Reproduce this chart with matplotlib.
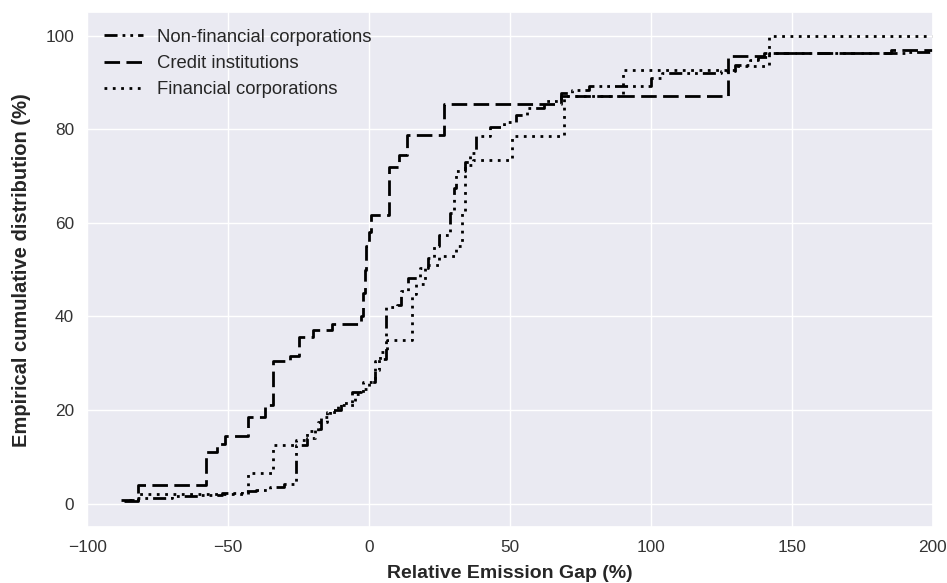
import matplotlib

matplotlib.use("Agg")

import matplotlib.pyplot as plt
import seaborn as sns

# step positions (Relative Emission Gap, %) and cumulative share (%)
nonfin_gap = [-88, -83, -70, -60, -52, -45, -40, -35, -30, -26, -22, -19, -17, -14,
              -10, -6, -3, 0, 2, 3.5, 6, 10, 11.5, 14, 18, 21, 23, 25, 28.6, 30,
              31, 34, 36, 38, 43, 48, 52, 56, 62, 68, 72, 78, 100, 104, 111, 125,
              130, 135, 138, 142, 190, 200]
nonfin_cdf = [0.8, 1.3, 1.6, 1.9, 2.2, 2.6, 3.0, 3.5, 4.3, 12.5, 14, 16, 18.5, 20,
              21.5, 23.8, 24.5, 26, 28.5, 31, 42, 42.5, 45.5, 48.3, 50.4, 52.5, 55, 57.4, 62, 67.5,
              71, 73, 75, 78.5, 80.5, 81.5, 83, 84.5, 86, 87.7, 88.3, 89.3, 91, 92, 92, 92.5,
              93.7, 94.7, 95.5, 96.2, 96.6, 96.6]

credit_gap = [-87, -82, -58, -54, -51, -43, -37, -34, -28, -25, -20, -13, -3, -2,
              -1.5, -1, 0, 0.7, 7, 10.5, 13.5, 26.5, 68, 127.5, 140, 185, 200]
credit_cdf = [0.5, 4, 11, 12.8, 14.4, 18.5, 21, 30.5, 31.5, 35.5, 37, 38.3, 40, 45,
              50, 55, 58, 61.7, 72, 74.5, 78.7, 85.3, 87, 95.7, 96.2, 97, 97]

financial_gap = [-85, -82, -43, -34, -26, -22, -18, -15, -11, -5, -2, 2, 4, 6.4,
                 15.4, 16.8, 20, 25, 31, 33, 34, 37, 50.7, 69, 90, 130, 142, 200]
financial_cdf = [0.8, 2, 6.6, 12.5, 13.5, 15.5, 17.5, 19.5, 21, 23.5, 26, 30.5, 32.5, 35,
                 44.7, 47, 51, 53, 55, 62, 72.3, 73.5, 78.5, 87, 92.6, 93.5, 100, 100]

series = [
    ("Non-financial corporations", nonfin_gap, nonfin_cdf, (0, (4.7, 1.8, 1, 1.8, 1, 1.8))),
    ("Credit institutions", credit_gap, credit_cdf, (0, (5.6, 2.3))),
    ("Financial corporations", financial_gap, financial_cdf, (0, (1, 2))),
]

sns.set_theme(style="darkgrid", context="notebook")
plt.rcParams["font.family"] = ["Liberation Sans", "DejaVu Sans"]

fig = plt.figure(figsize=(9.47, 5.83), dpi=100)
ax = fig.add_axes([0.092, 0.096, 0.893, 0.883])

for label, gap, cdf, style in series:
    ax.step(gap, cdf, where="post", color="black", linewidth=2,
            linestyle=style, label=label)

ax.set_xlim(-100, 200)
ax.set_ylim(-5, 105)
ax.set_xticks([-100, -50, 0, 50, 100, 150, 200])
ax.set_yticks([0, 20, 40, 60, 80, 100])
ax.tick_params(labelsize=12.4, colors="#333333")
ax.set_xlabel("Relative Emission Gap (%)", fontsize=14, fontweight="bold", labelpad=7)
ax.set_ylabel("Empirical cumulative distribution (%)", fontsize=14.5,
              fontweight="bold", labelpad=10)
ax.legend(loc="upper left", frameon=False, fontsize=13.3, handlelength=2.1,
          borderaxespad=0.5, labelspacing=0.5)

fig.savefig("out.png", dpi=100)
